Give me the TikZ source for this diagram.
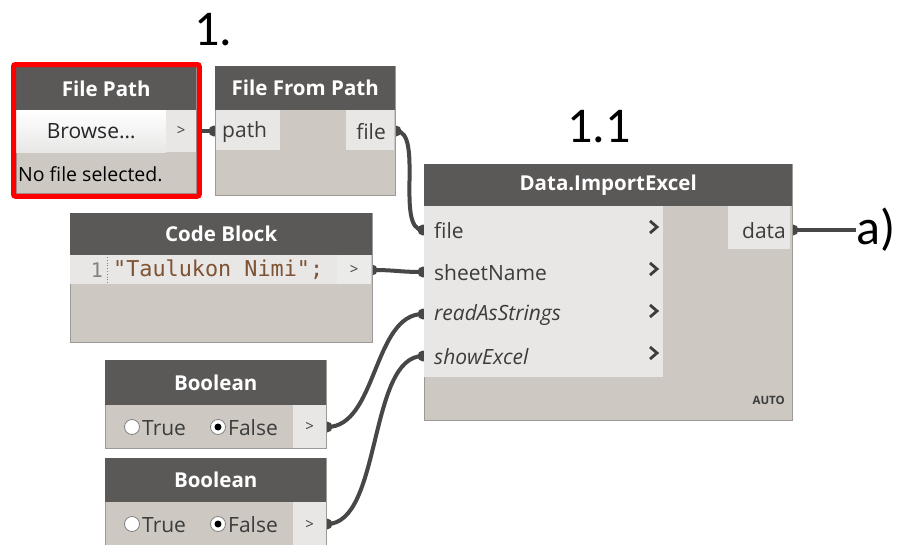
\documentclass[tikz,border=0pt]{standalone}
\usepackage{fontspec}
\setmainfont{Open Sans}
\newfontfamily\bigfont{Carlito}
\setmonofont{DejaVu Sans Mono}
\usetikzlibrary{fit}
\definecolor{hdr}{HTML}{5B5957}
\definecolor{bodyc}{HTML}{CDC9C2}
\definecolor{cellc}{HTML}{E8E7E5}
\definecolor{edgec}{HTML}{9C9A97}
\definecolor{txt}{HTML}{3C3C3C}
\definecolor{wirec}{HTML}{474747}
\definecolor{codec}{HTML}{7E5234}
\pgfdeclarelayer{bg}
\pgfsetlayers{bg,main}
\tikzset{
  nodebody/.style={fill=bodyc, draw=edgec, line width=0.8pt, anchor=north west, inner sep=0pt},
  header/.style={fill=hdr, anchor=north west, inner sep=0pt, text=white,
    font=\bfseries\fontsize{20.5}{22}\selectfont},
  cell/.style={fill=cellc, anchor=north west, inner sep=0pt, text=txt,
    font=\fontsize{21}{24}\selectfont},
  lbl/.style={text=txt, font=\fontsize{21}{24}\selectfont, inner sep=0pt},
  wire/.style={draw=wirec, line width=4pt},
  plug/.style={fill=wirec},
  chev/.style={draw=txt, line width=2.8pt},
  radio/.style={circle, draw=gray, fill=white, line width=0.8pt, minimum size=15pt, inner sep=0pt},
  dot/.style={circle, fill=black, minimum size=7pt, inner sep=0pt},
  big/.style={font=\bigfont\fontsize{50}{54}\selectfont, text=black, inner sep=0pt}
}
\begin{document}
\begin{tikzpicture}[x=1pt,y=-1pt]
\useasboundingbox (0,0) rectangle (897,544);

% ---------- File Path ----------
\node[nodebody, minimum width=180pt, minimum height=126pt] (fp) at (16,67) {};
\node[header, minimum width=180pt, minimum height=43pt] (fp-h) at (16,67) {File Path};
\node[cell, minimum width=150pt, minimum height=42pt, top color=white, bottom color=cellc!85!gray!60, text=black!85] (fp-b) at (16,110) {Browse…};
\node[cell, minimum width=30pt, minimum height=42pt, font=\fontsize{15}{18}\selectfont] (fp-o) at (166,110) {>};
\node[lbl, anchor=west, text=black, font=\fontsize{19.5}{22}\selectfont] (fp-msg) at (18,174) {No file selected.};
\node[draw=red, line width=5pt, rounded corners=2pt, fit=(fp), inner sep=2.5pt] (fp-sel) {};
\coordinate (fp-out) at (197,131);

% ---------- File From Path ----------
\node[nodebody, minimum width=180pt, minimum height=129pt] (ffp) at (215,66) {};
\node[header, minimum width=180pt, minimum height=44pt] (ffp-h) at (215,66) {File From Path};
\node[cell, minimum width=64pt, minimum height=40pt] (ffp-p) at (216,110) {};
\node[cell, minimum width=48pt, minimum height=40pt] (ffp-f) at (346,110) {};
\node[lbl, anchor=west] (ffp-pt) at (222,132) {path};
\node[lbl, anchor=east] (ffp-ft) at (386,132) {file};
\coordinate (ffp-in) at (214,131);
\coordinate (ffp-out) at (396,131);

% ---------- Code Block ----------
\node[nodebody, minimum width=302pt, minimum height=129pt] (cb) at (70,213) {};
\node[header, minimum width=302pt, minimum height=42pt] (cb-h) at (70,213) {Code Block};
\node[cell, minimum width=267pt, minimum height=29pt] (cb-c) at (70,255) {};
\node[cell, minimum width=34pt, minimum height=29pt, fill=cellc!85!white, font=\fontsize{15}{18}\selectfont] (cb-o) at (337,255) {>};
\node[font=\ttfamily\fontsize{20}{22}\selectfont, text=gray, inner sep=0pt] (cb-n) at (97,270) {1};
\draw[gray, dotted, line width=0.8pt] (107,257) -- (107,283);
\node[font=\ttfamily\fontsize{21.8}{24}\selectfont, text=codec, anchor=west, inner sep=0pt] (cb-t) at (113,270) {"Taulukon Nimi";};
\coordinate (cb-out) at (372,270);

% ---------- Boolean 1 ----------
\node[nodebody, minimum width=221pt, minimum height=88pt] (b1) at (105,360) {};
\node[header, minimum width=221pt, minimum height=45pt] (b1-h) at (105,360) {Boolean};
\node[cell, minimum width=33pt, minimum height=43pt, font=\fontsize{15}{18}\selectfont] (b1-o) at (293,405) {>};
\node[radio] (b1-r1) at (132,427) {};
\node[lbl, anchor=west] (b1-t) at (142,428) {True};
\node[radio] (b1-r2) at (218,427) {};
\node[dot] (b1-d) at (b1-r2) {};
\node[lbl, anchor=west] (b1-f) at (228,428) {False};
\coordinate (b1-out) at (327,427);

% ---------- Boolean 2 ----------
\node[nodebody, minimum width=221pt, minimum height=95pt] (b2) at (105,458) {};
\node[header, minimum width=221pt, minimum height=44pt] (b2-h) at (105,458) {Boolean};
\node[cell, minimum width=33pt, minimum height=45pt, font=\fontsize{15}{18}\selectfont] (b2-o) at (293,502) {>};
\node[radio] (b2-r1) at (132,524) {};
\node[lbl, anchor=west] (b2-t) at (142,525) {True};
\node[radio] (b2-r2) at (218,524) {};
\node[dot] (b2-d) at (b2-r2) {};
\node[lbl, anchor=west] (b2-f) at (228,525) {False};
\coordinate (b2-out) at (327,524);

% ---------- Data.ImportExcel ----------
\node[nodebody, minimum width=368pt, minimum height=256pt] (ie) at (424,164) {};
\node[header, minimum width=368pt, minimum height=42pt] (ie-h) at (424,164) {Data.ImportExcel};
\node[cell, minimum width=239pt, minimum height=171pt] (ie-in) at (424,206) {};
\node[cell, minimum width=62pt, minimum height=43pt] (ie-d) at (728,206) {};
\node[lbl, anchor=east] (ie-dt) at (786,231) {data};
\node[lbl, anchor=west] (ie-l1) at (434,231) {file};
\node[lbl, anchor=west] (ie-l2) at (434,273) {sheetName};
\node[lbl, anchor=west, font=\itshape\fontsize{21}{24}\selectfont] (ie-l3) at (434,315) {readAsStrings};
\node[lbl, anchor=west, font=\itshape\fontsize{21}{24}\selectfont] (ie-l4) at (434,357) {showExcel};
\foreach \yy in {227,269,311,353}
  \draw[chev] (650,\yy-6) -- (657,\yy) -- (650,\yy+6);
\node[anchor=east, inner sep=0pt, text=txt, font=\bfseries\fontsize{11.5}{12}\selectfont] (ie-auto) at (785,400) {AUTO};
\coordinate (ie-file) at (423,230);
\coordinate (ie-sheet) at (423,272);
\coordinate (ie-read) at (423,314);
\coordinate (ie-show) at (423,356);
\coordinate (ie-out) at (793,230);

% ---------- labels ----------
\node[big] (lab1) at (213,30) {1.};
\node[big] (lab11) at (599,127) {1.1};
\node[big, anchor=west] (laba) at (856,230) {a)};

% ---------- wires ----------
\begin{pgfonlayer}{bg}
  \fill[white] (0,0) rectangle (897,544);
  \draw[wire] (fp-out) -- (ffp-in);
  \draw[wire] (ffp-out) .. controls +(28,0) and +(-28,0) .. (ie-file);
  \draw[wire] (cb-out) .. controls +(25,0) and +(-25,0) .. (ie-sheet);
  \draw[wire] (b1-out) .. controls +(50,0) and +(-50,0) .. (ie-read);
  \draw[wire] (b2-out) .. controls +(55,0) and +(-55,0) .. (ie-show);
  \draw[wire] (ie-out) -- (laba.west);
  \foreach \p in {fp-out,ffp-in,ffp-out,cb-out,b1-out,b2-out,ie-file,ie-sheet,ie-read,ie-show,ie-out}
    \fill[plug] (\p) circle (5.5pt);
\end{pgfonlayer}
\end{tikzpicture}
\end{document}
